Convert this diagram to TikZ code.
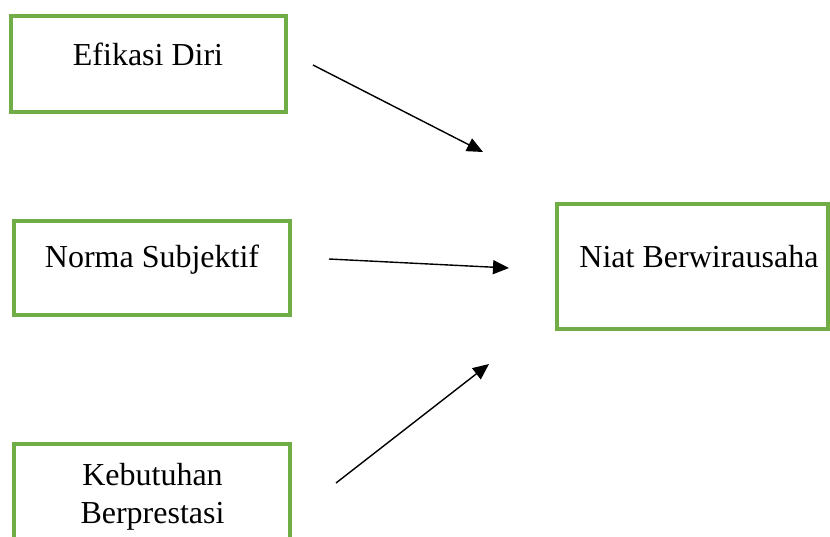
\documentclass[tikz,border=0pt]{standalone}
\usepackage{fontspec}
\setmainfont{Liberation Serif}
\usetikzlibrary{arrows.meta}
\definecolor{boxgreen}{RGB}{112,173,71}
\begin{document}
\begin{tikzpicture}[x=1pt,y=-1pt,
  box/.style={draw=boxgreen, line width=3.2pt, rectangle},
  lbl/.style={anchor=base, inner sep=0pt, font=\fontsize{32}{38}\selectfont, align=center},
  conn/.style={line width=1.4pt, -{Triangle[length=16pt,width=14pt]}}]
\path[use as bounding box, fill=white] (0,0) rectangle (830,536);
\clip (0,0) rectangle (830,536);
% boxes
\draw[box] (11,16) rectangle (286,112);
\node[coordinate] (efi) at (148,64) {};
\draw[box] (14,221) rectangle (290,315);
\node[coordinate] (nor) at (152,268) {};
\draw[box] (14,444) rectangle (290,560);
\node[coordinate] (keb) at (152,500) {};
\draw[box] (557,204) rectangle (828,329);
\node[coordinate] (niat) at (693,266) {};
% labels
\node[lbl] (tefi) at (148,65) {Efikasi Diri};
\node[lbl] (tnor) at (152,267) {Norma Subjektif};
\node[lbl] (tkeb1) at (152.5,485) {Kebutuhan};
\node[lbl] (tkeb2) at (152.5,523) {Berprestasi};
\node[lbl] (tniat) at (699,267) {Niat Berwirausaha};
% connector ends
\coordinate (a1s) at (313,65);
\coordinate (a1e) at (483,152);
\coordinate (a2s) at (329,259);
\coordinate (a2e) at (509,268);
\coordinate (a3s) at (336,483);
\coordinate (a3e) at (489,364);
\draw[conn] (a1s) -- (a1e);
\draw[conn] (a2s) -- (a2e);
\draw[conn] (a3s) -- (a3e);
\end{tikzpicture}
\end{document}
